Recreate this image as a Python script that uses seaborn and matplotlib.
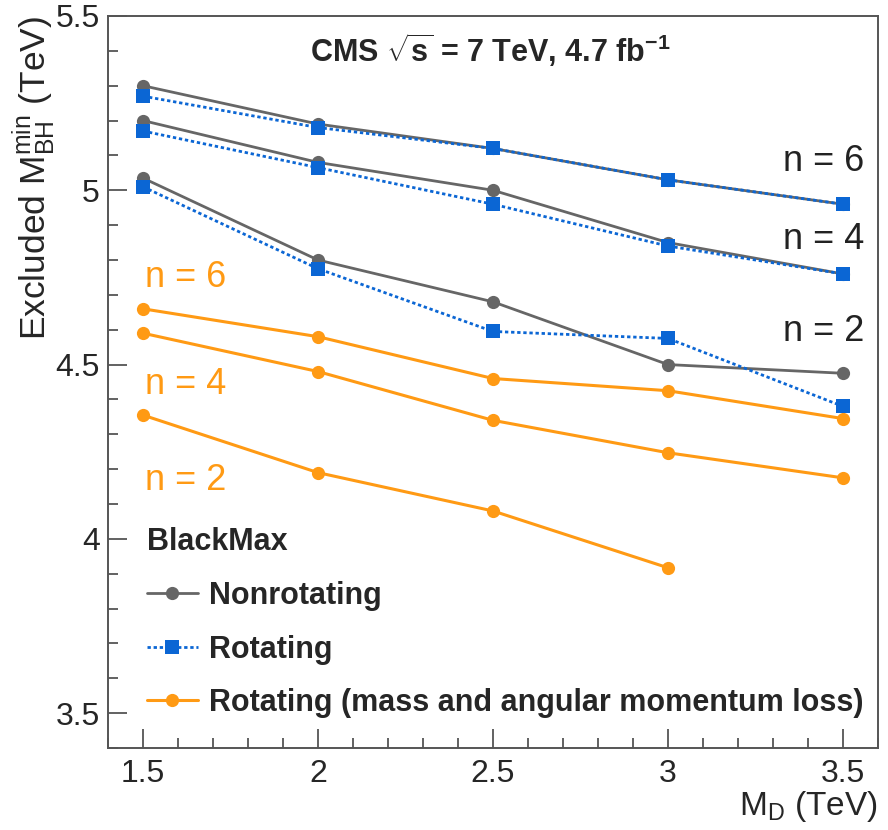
import matplotlib
matplotlib.use("Agg")
import matplotlib.pyplot as plt
from matplotlib.ticker import MultipleLocator
import seaborn as sns
import pandas as pd

# M_D values (TeV)
md = [1.5, 2.0, 2.5, 3.0, 3.5]

# BlackMax nonrotating black holes
nonrot_n6 = [5.30, 5.19, 5.12, 5.03, 4.96]
nonrot_n4 = [5.20, 5.08, 5.00, 4.85, 4.76]
nonrot_n2 = [5.035, 4.80, 4.68, 4.50, 4.475]

# BlackMax rotating black holes
rot_n6 = [5.27, 5.18, 5.12, 5.03, 4.96]
rot_n4 = [5.17, 5.065, 4.96, 4.84, 4.76]
rot_n2 = [5.01, 4.775, 4.595, 4.575, 4.38]

# Rotating, with mass and angular momentum loss
loss_n6 = [4.66, 4.58, 4.46, 4.425, 4.345]
loss_n4 = [4.59, 4.48, 4.34, 4.247, 4.175]
loss_n2 = [4.355, 4.19, 4.08, 3.917]

legend_labels = ["Nonrotating", "Rotating",
                 "Rotating (mass and angular momentum loss)"]
n_labels = ["n = 6", "n = 4", "n = 2"]

sns.set_style("ticks")
plt.rcParams["font.family"] = ["Liberation Sans", "DejaVu Sans"]
plt.rcParams["mathtext.fontset"] = "custom"
plt.rcParams["mathtext.rm"] = "Liberation Sans"
plt.rcParams["mathtext.bf"] = "Liberation Sans:bold"
plt.rcParams["mathtext.it"] = "Liberation Sans:italic"

GRAY = "#666666"
BLUE = "#0b66d4"
ORANGE = "#ff9a14"

fig = plt.figure(figsize=(8.88, 8.3), dpi=100)
ax = fig.add_axes([108 / 888, (830 - 748) / 830, 770 / 888, 732 / 830])


def draw(xs, ys, color, marker, ls, lw, ms, label, z):
    df = pd.DataFrame({"MD": xs, "M": ys})
    sns.lineplot(data=df, x="MD", y="M", ax=ax, color=color, marker=marker,
                 markersize=ms, markeredgewidth=0, linewidth=lw,
                 linestyle=ls, label=label, zorder=z, legend=False)


# orange: mass and angular momentum loss
for i, ys in enumerate([loss_n6, loss_n4, loss_n2]):
    draw(md[:len(ys)], ys, ORANGE, "o", "-", 2.2, 9.5,
         legend_labels[2] if i == 0 else "_nolegend_", 3)
# gray: nonrotating
for i, ys in enumerate([nonrot_n6, nonrot_n4, nonrot_n2]):
    draw(md, ys, GRAY, "o", "-", 2.0, 9.5,
         legend_labels[0] if i == 0 else "_nolegend_", 4)
# blue: rotating
for i, ys in enumerate([rot_n6, rot_n4, rot_n2]):
    draw(md, ys, BLUE, "s", (0, (1.2, 1.0)), 2.0, 9.5,
         legend_labels[1] if i == 0 else "_nolegend_", 5)

ax.set_xlim(1.4, 3.6)
ax.set_ylim(3.4, 5.5)
ax.xaxis.set_major_locator(MultipleLocator(0.5))
ax.xaxis.set_minor_locator(MultipleLocator(0.1))
ax.yaxis.set_major_locator(MultipleLocator(0.5))
ax.yaxis.set_minor_locator(MultipleLocator(0.1))
ax.xaxis.set_major_formatter(plt.FuncFormatter(lambda v, p: f"{v:g}"))
ax.yaxis.set_major_formatter(plt.FuncFormatter(lambda v, p: f"{v:g}"))
ax.tick_params(which="major", direction="in", length=14, width=1.3,
               color="#555555", labelsize=23, pad=6, top=False, right=False)
ax.tick_params(which="minor", direction="in", length=7, width=1.3,
               color="#555555", top=False, right=False)
ax.tick_params(axis="x", which="major", pad=8)
for s in ax.spines.values():
    s.set_color("#555555")
    s.set_linewidth(1.4)

ax.set_xlabel(r"$\mathrm{M_D}$ (TeV)", fontsize=24, loc="right", labelpad=0)
ax.set_ylabel(r"Excluded $\mathrm{M_{BH}^{min}}$ (TeV)", fontsize=25.5,
              loc="top", labelpad=-2)

ax.text(0.497, 0.954, r"CMS $\mathbf{\sqrt{s}}$ = 7 TeV, 4.7 fb$^{\mathbf{-1}}$",
        transform=ax.transAxes, ha="center", va="center", fontsize=22,
        fontweight="bold")

# curve labels
for lab, y in zip(n_labels, [5.083, 4.86, 4.596]):
    ax.text(3.56, y, lab, ha="right", va="center", fontsize=26, color="#222222")
for lab, y in zip(n_labels, [4.75, 4.444, 4.166]):
    ax.text(1.506, y, lab, ha="left", va="center", fontsize=26, color=ORANGE)

handles, labels = ax.get_legend_handles_labels()
order = [labels.index(l) for l in legend_labels]
leg = ax.legend([handles[i] for i in order], [labels[i] for i in order],
                title="BlackMax", loc="upper left",
                bbox_to_anchor=(0.035, 0.318), frameon=False, fontsize=22,
                handlelength=1.65, handletextpad=0.36, labelspacing=0.77,
                alignment="left", borderaxespad=0)
plt.setp(leg.get_title(), fontsize=22, fontweight="bold")
for t in leg.get_texts():
    t.set_fontweight("bold")

fig.savefig("out.png", dpi=100)
